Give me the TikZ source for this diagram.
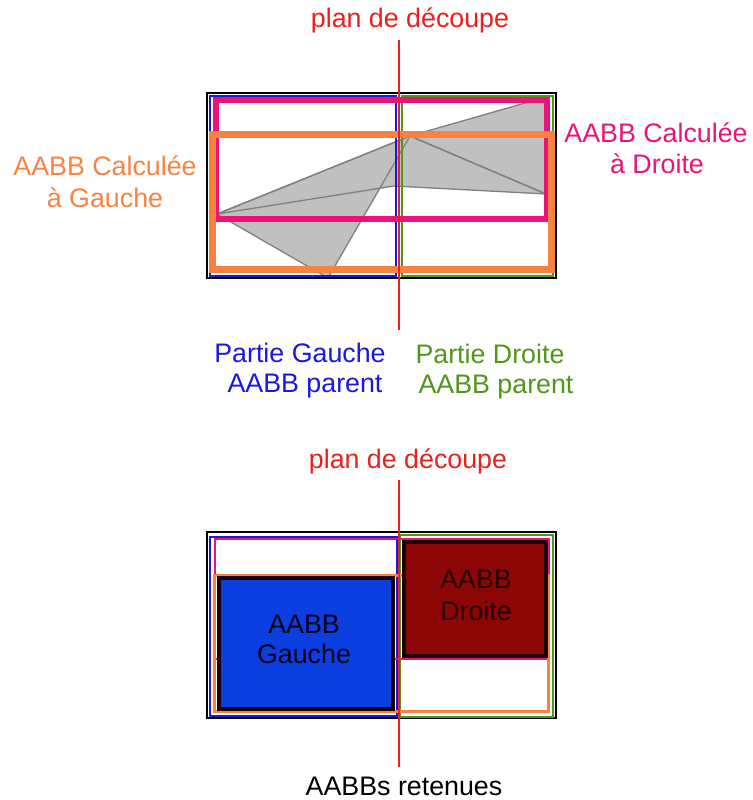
\documentclass[tikz,border=0pt]{standalone}
\usepackage{fontspec}
\setmainfont{Liberation Sans}
\definecolor{cutred}{RGB}{232,32,30}
\definecolor{pinkc}{RGB}{234,20,120}
\definecolor{orangec}{RGB}{246,132,64}
\definecolor{bluec}{RGB}{24,24,228}
\definecolor{greenc}{RGB}{80,150,24}
\definecolor{polyfill}{RGB}{192,192,192}
\definecolor{polyedge}{RGB}{128,128,128}
\definecolor{boxblue}{RGB}{10,62,222}
\definecolor{boxred}{RGB}{140,6,6}
\tikzset{
  lbl/.style={inner sep=0pt, anchor=base, font=\fontsize{26.8}{32}\selectfont},
  outerbox/.style={draw=black, line width=2.2pt},
  parentL/.style={draw=bluec, line width=1.6pt},
  parentR/.style={draw=greenc, line width=2pt},
  calcR/.style={draw=pinkc, line width=#1},
  calcL/.style={draw=orangec, line width=#1},
  tri/.style={fill=polyfill},
  triedge/.style={draw=polyedge, line width=1.3pt, line join=round},
  cutline/.style={draw=cutred, line width=1.6pt},
  keepbox/.style={draw=black!90!red, line width=4pt}
}
\begin{document}
\begin{tikzpicture}[x=1pt,y=-1pt]
\useasboundingbox (0,0) rectangle (752,800);
% ---------------- top diagram ----------------
\coordinate (A) at (217,214);
\coordinate (P) at (410,136);
\coordinate (Q) at (328,278);
\coordinate (S) at (546,97);
\coordinate (U) at (546,194);
\coordinate (V) at (394,186);
\fill[tri] (A) -- (P) -- (Q) -- cycle;
\fill[tri] (P) -- (S) -- (U) -- cycle;
\fill[tri] (A) -- (V) -- (U) -- (P) -- cycle;
\draw[triedge] (A) -- (P) -- (Q) -- cycle;
\draw[triedge] (P) -- (S) -- (U) -- cycle;
\draw[triedge] (A) -- (V) -- (U) -- (P) -- cycle;
\draw[outerbox] (207,93) rectangle (556,278);
\draw[parentL] (210,96) rectangle (396,276);
\draw[parentR] (402,96) rectangle (553,276);
\draw[calcR=6.5pt] (216,100) rectangle (547,219);
\draw[calcL=7pt] (212,134) rectangle (551,269);
% labels top
\node[lbl, text=cutred] (plan1) at (410,28) {plan de découpe};
\coordinate (cut1a) at (399,40);
\coordinate (cut1b) at (399,330);
\draw[cutline] (cut1a) -- (cut1b);
\node[lbl, text=orangec] (calcLa) at (105,175) {AABB Calculée};
\node[lbl, text=orangec] (calcLb) at (105,207) {à Gauche};
\node[lbl, text=pinkc] (calcRa) at (656,142) {AABB Calculée};
\node[lbl, text=pinkc] (calcRb) at (657,173) {à Droite};
\node[lbl, text=bluec] (parLa) at (300,362) {Partie Gauche};
\node[lbl, text=bluec] (parLb) at (305,392) {AABB parent};
\node[lbl, text=greenc] (parRa) at (490,363) {Partie Droite};
\node[lbl, text=greenc] (parRb) at (496,393) {AABB parent};
% ---------------- bottom diagram ----------------
\draw[outerbox] (207,532) rectangle (556,718);
\draw[parentL] (210,537) rectangle (397,716);
\draw[parentR] (400,535) rectangle (553,717);
\draw[calcR=2.2pt] (215,539) rectangle (549,659);
\draw[calcL=3pt] (214,575) rectangle (548,711);
\draw[keepbox, fill=boxblue] (219,578) rectangle (393,709);
\draw[keepbox, fill=boxred] (404,542) rectangle (546,656);
\node[lbl, text=black!90!blue] (kgA) at (304,633) {AABB};
\node[lbl, text=black!90!blue] (kgB) at (304,663) {Gauche};
\node[lbl, text=black!85!red] (kdA) at (476,588) {AABB};
\node[lbl, text=black!85!red] (kdB) at (476,620) {Droite};
\node[lbl, text=cutred] (plan2) at (408,468) {plan de découpe};
\coordinate (cut2a) at (399,480);
\coordinate (cut2b) at (399,767);
\draw[cutline] (cut2a) -- (cut2b);
\node[lbl, text=black] (kept) at (404,795) {AABBs retenues};
\end{tikzpicture}
\end{document}
